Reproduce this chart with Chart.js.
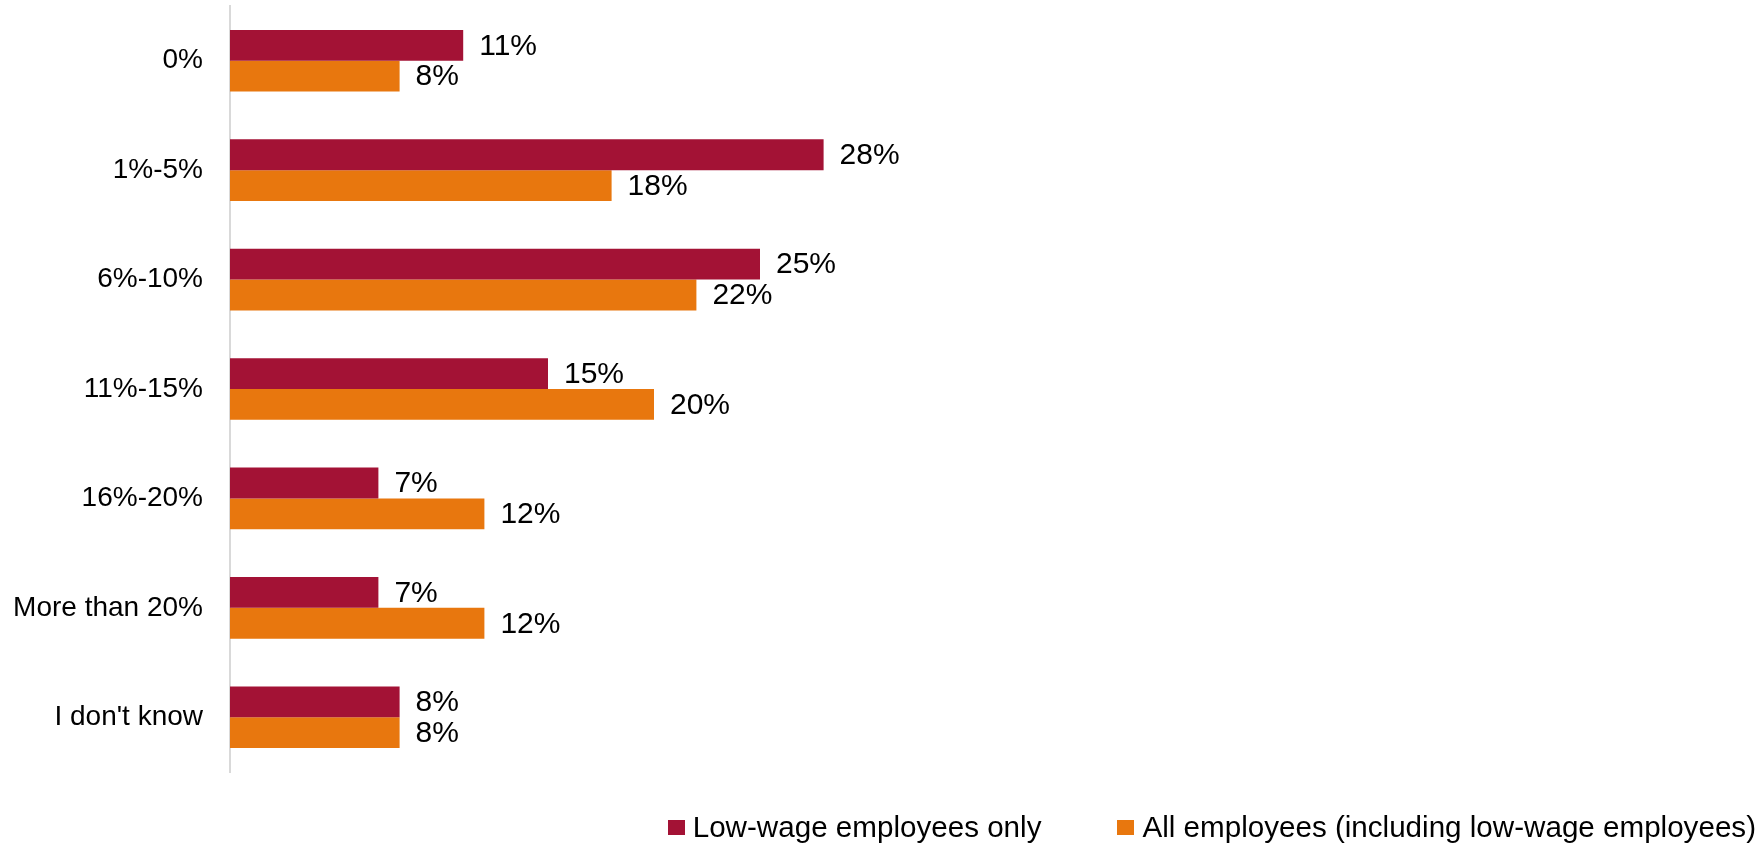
<!DOCTYPE html>
<html>
<head>
<meta charset="utf-8">
<script src="https://cdn.jsdelivr.net/npm/chart.js@4.4.1/dist/chart.umd.min.js"></script>
<style>
  html, body { margin: 0; padding: 0; background: #fff; }
  #wrap { position: relative; width: 1757px; height: 844px; }
  #legend {
    position: absolute; right: 1px; top: 812px;
    display: flex; align-items: center;
    font-family: "Liberation Sans", Arial, sans-serif; font-size: 29.6px; line-height: 30px; color: #000;
  }
  #legend .item { display: flex; align-items: center; }
  #legend .item + .item { margin-left: 76px; }
  #legend .box { width: 17px; height: 15px; margin-right: 8px; }
</style>
</head>
<body>
<div id="wrap">
  <canvas id="barChart"></canvas>
  <div id="legend"></div>
</div>
<script>
const categories = ['0%', '1%-5%', '6%-10%', '11%-15%', '16%-20%', 'More than 20%', "I don't know"];
const lowWage = [11, 28, 25, 15, 7, 7, 8];
const allEmployees = [8, 18, 22, 20, 12, 12, 8];
const seriesNames = ['Low-wage employees only', 'All employees (including low-wage employees)'];
const seriesColors = ['#A31235', '#E8770E'];

const fontFamily = '"Liberation Sans", Arial, sans-serif';
const tickFont = { family: fontFamily, size: 28 };
const valueFontSize = 30;

// value labels at the end of each bar
const barValues = {
    id: 'barValues',
    afterDatasetsDraw(chart) {
        const ctx = chart.ctx;
        ctx.save();
        ctx.font = `${valueFontSize}px ${fontFamily}`;
        ctx.fillStyle = '#000';
        ctx.textBaseline = 'middle';
        ctx.textAlign = 'left';
        chart.data.datasets.forEach((ds, i) => {
            chart.getDatasetMeta(i).data.forEach((bar, j) => {
                ctx.fillText(ds.data[j] + '%', bar.x + 16, bar.y + 1);
            });
        });
        ctx.restore();
    }
};

const ctx = document.getElementById('barChart').getContext('2d');

new Chart(ctx, {
    type: 'bar',
    data: {
        labels: categories,
        datasets: [
            { label: seriesNames[0], data: lowWage, backgroundColor: seriesColors[0] },
            { label: seriesNames[1], data: allEmployees, backgroundColor: seriesColors[1] }
        ]
    },
    options: {
        indexAxis: 'y',
        responsive: true,
        maintainAspectRatio: false,
        animation: false,
        datasets: {
            bar: { barPercentage: 1, categoryPercentage: 0.563, borderWidth: 0 }
        },
        layout: {
            padding: { top: 6, bottom: 72, right: 43, left: 0 }
        },
        scales: {
            x: {
                display: false,
                min: 0,
                max: 70
            },
            y: {
                // fixed axis width; labels sit at the category centres so no extra top/bottom room
                afterFit: (scale) => {
                    scale.width = 230;
                    scale.paddingTop = 0;
                    scale.paddingBottom = 0;
                },
                grid: { display: false, drawTicks: false },
                border: { display: true, color: '#d9d9d9', width: 2 },
                ticks: {
                    padding: 27,
                    color: '#000',
                    font: tickFont
                }
            }
        },
        plugins: {
            legend: { display: false },
            tooltip: { enabled: false }
        }
    },
    plugins: [barValues]
});

// legend below the plot
const legendEl = document.getElementById('legend');
seriesNames.forEach((name, i) => {
    const item = document.createElement('div');
    item.className = 'item';
    const box = document.createElement('span');
    box.className = 'box';
    box.style.background = seriesColors[i];
    const text = document.createElement('span');
    text.textContent = name;
    item.appendChild(box);
    item.appendChild(text);
    legendEl.appendChild(item);
});
</script>
</body>
</html>
